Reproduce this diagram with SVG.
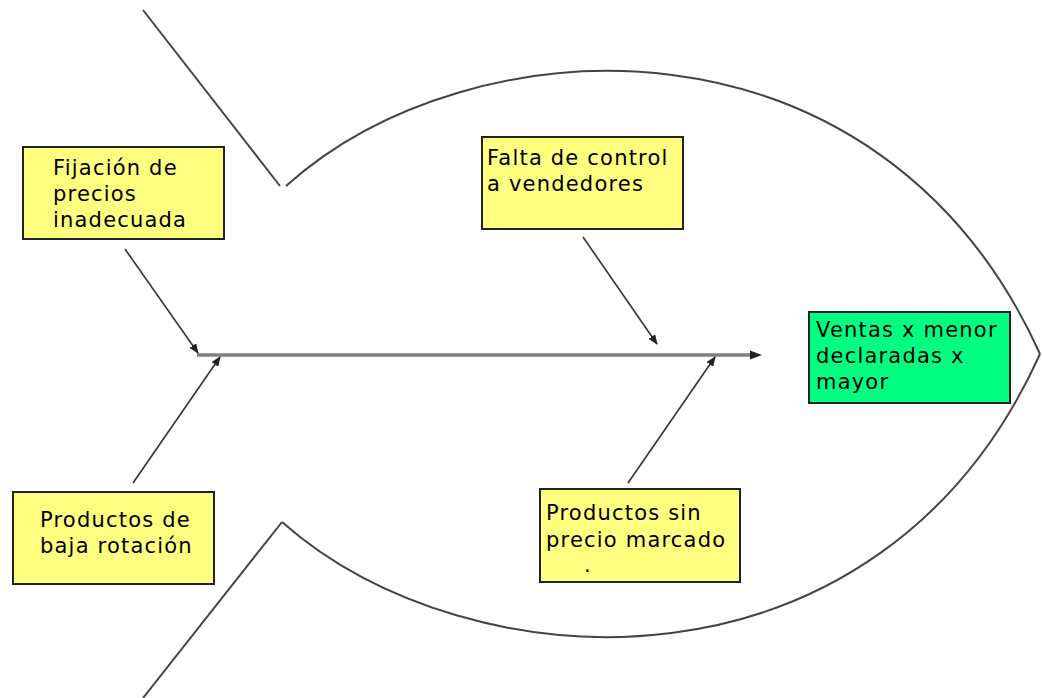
<svg xmlns="http://www.w3.org/2000/svg" width="1042" height="698" viewBox="0 0 1042 698">
<style>
.outline{fill:none;stroke:#444;stroke-width:2}
.box{stroke:#222;stroke-width:2}
.cause{fill:#FFFF80}
.effect{fill:#00FF80}
.lbl{font-family:"DejaVu Sans",Verdana,sans-serif;font-size:21px;letter-spacing:1.2px;fill:#000}
.arr{stroke:#333;stroke-width:1.6;fill:none;marker-end:url(#ah)}
</style>
<defs>
<marker id="ah" markerWidth="10" markerHeight="8" refX="9" refY="4" orient="auto" markerUnits="userSpaceOnUse">
<path d="M0,0 L10,4 L0,8 Z" fill="#222"/>
</marker>
</defs>
<rect width="1042" height="698" fill="#fff"/>
<g id="fish">
<line class="outline" x1="143" y1="10" x2="280" y2="186"/>
<path class="outline" d="M286,186 C470,20 880,0 1040,354"/>
<path class="outline" d="M1040,354 C880,708 470,688 282,522"/>
<line class="outline" x1="282" y1="522" x2="143" y2="698"/>
</g>
<g id="connectors">
<line x1="197" y1="355" x2="752" y2="355" stroke="#808080" stroke-width="3.5"/>
<path d="M750,350.5 L762,355 L750,359.5 Z" fill="#222"/>
<line class="arr" x1="125" y1="249" x2="198" y2="353"/>
<line class="arr" x1="133" y1="483" x2="220" y2="357"/>
<line class="arr" x1="583" y1="237" x2="657" y2="344"/>
<line class="arr" x1="628" y1="483" x2="715" y2="357"/>
</g>
<g id="n_fijacion">
<rect class="box cause" x="23" y="147" width="201" height="92"/>
<text class="lbl" x="53" y="175">Fijación de</text>
<text class="lbl" x="53" y="201">precios</text>
<text class="lbl" x="53" y="227">inadecuada</text>
</g>
<g id="n_falta">
<rect class="box cause" x="482" y="137" width="201" height="92"/>
<text class="lbl" x="487" y="165">Falta de control</text>
<text class="lbl" x="487" y="191">a vendedores</text>
</g>
<g id="n_ventas">
<rect class="box effect" x="809" y="312" width="201" height="91"/>
<text class="lbl" x="816" y="337">Ventas x menor</text>
<text class="lbl" x="816" y="363">declaradas x</text>
<text class="lbl" x="816" y="389">mayor</text>
</g>
<g id="n_baja">
<rect class="box cause" x="13" y="492" width="201" height="92"/>
<text class="lbl" x="40" y="527">Productos de</text>
<text class="lbl" x="40" y="553">baja rotación</text>
</g>
<g id="n_sinprecio">
<rect class="box cause" x="540" y="489" width="200" height="93"/>
<text class="lbl" x="546" y="520">Productos sin</text>
<text class="lbl" x="546" y="547">precio marcado</text>
<text class="lbl" x="584" y="572">.</text>
</g>
</svg>
